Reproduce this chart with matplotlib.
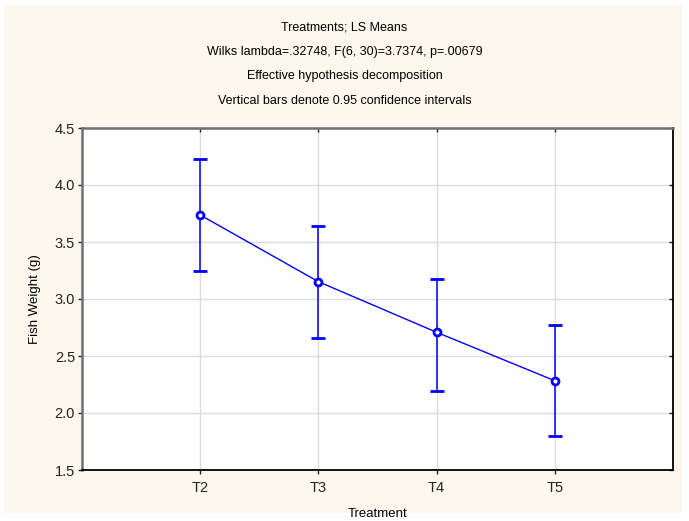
import matplotlib
matplotlib.use("Agg")
import matplotlib.pyplot as plt
from matplotlib.patches import Rectangle

plt.rcParams['font.family'] = ['Liberation Sans', 'DejaVu Sans']

treatments = ['T2', 'T3', 'T4', 'T5']
means = [3.737, 3.152, 2.708, 2.283]
upper = [4.228, 3.638, 3.175, 2.772]
lower = [3.245, 2.660, 2.196, 1.795]

title_lines = ['Treatments; LS Means',
               'Wilks lambda=.32748, F(6, 30)=3.7374, p=.00679',
               'Effective hypothesis decomposition',
               'Vertical bars denote 0.95 confidence intervals']

fig = plt.figure(figsize=(6.89, 5.21), dpi=100, facecolor='white')
fig.patches.append(Rectangle((4/689, 8/521), 678/689, 508/521, transform=fig.transFigure,
                             facecolor='#fdf8ed', edgecolor='none', zorder=-10))
ax = fig.add_axes([82/689, 1 - 470/521, 591/689, 342/521])
ax.set_facecolor('white')

x = list(range(1, len(treatments) + 1))
err_lo = [m - l for m, l in zip(means, lower)]
err_hi = [u - m for m, u in zip(means, upper)]
ax.errorbar(x, means, yerr=[err_lo, err_hi], color='#0000ff', lw=1, elinewidth=1.1,
            capsize=5, capthick=1.1, marker='o', markersize=5, markerfacecolor='white',
            markeredgewidth=2, zorder=3)

ax.set_xlim(0, 5)
ax.set_ylim(1.5, 4.5)
ax.set_xticks(x)
ax.set_xticklabels(treatments)
ax.set_yticks([1.5, 2.0, 2.5, 3.0, 3.5, 4.0, 4.5])
ax.set_yticklabels(['1.5', '2.0', '2.5', '3.0', '3.5', '4.0', '4.5'])
ax.grid(True, color='#dcdcdc', lw=1)
ax.set_axisbelow(True)

ax.tick_params(axis='both', labelsize=10.5, colors='#222222', length=3, width=1)
ax.tick_params(axis='y', direction='out', right=True, pad=2)
ax.tick_params(axis='x', direction='out', top=True, pad=5)
for t in ax.yaxis.get_major_ticks():
    t.tick2line.set_marker(matplotlib.lines.TICKLEFT)
for t in ax.xaxis.get_major_ticks():
    t.tick2line.set_marker(matplotlib.lines.TICKDOWN)

for s in ['left', 'top']:
    ax.spines[s].set_color('#707070')
    ax.spines[s].set_linewidth(1.8)
for s in ['bottom', 'right']:
    ax.spines[s].set_color('black')
    ax.spines[s].set_linewidth(1.3)

ax.set_xlabel('Treatment', fontsize=9.5, labelpad=9)
ax.set_ylabel('Fish Weight (g)', fontsize=9.5, labelpad=10)

for i, line in enumerate(title_lines):
    fig.text(0.5, 1 - (27 + i * 24.5) / 521, line, ha='center', va='center', fontsize=9)

fig.savefig('out.png', dpi=100, facecolor='white')
